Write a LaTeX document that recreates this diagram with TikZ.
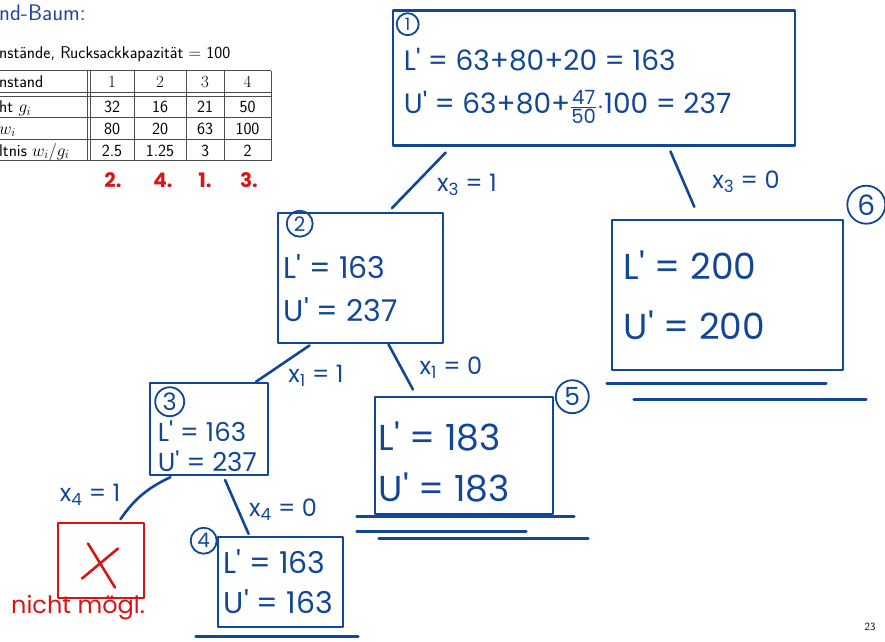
\documentclass[tikz,border=0pt]{standalone}
\usepackage{amsmath}
\usepackage{fontspec}
\newfontfamily\handfont{Poppins}
\usetikzlibrary{
	positioning,
	calc
}
\definecolor{inkblue}{RGB}{18,70,150}
\definecolor{inkred}{RGB}{214,22,22}
\definecolor{titleblue}{RGB}{32,66,160}
\newcommand{\lbnd}{L\textquotesingle}
\newcommand{\ubnd}{U\textquotesingle}

\begin{document}
\begin{tikzpicture}[
			x=1pt, y=-1pt,
			ink/.style={draw=inkblue, line width=2.6pt, line cap=round, line join=round},
			redink/.style={draw=inkred, line width=2.6pt, line cap=round, line join=round},
			box/.style={ink, rectangle, inner sep=0pt},
			vals/.style={anchor=west, inner sep=0pt, align=left, text=inkblue},
			num/.style={circle, draw=inkblue, line width=1.8pt, inner sep=0pt, text=inkblue,
					font=\handfont\fontsize{20}{20}\selectfont},
			lbl/.style={text=inkblue, inner sep=1pt, font=\handfont\fontsize{24}{24}\selectfont},
			rule/.style={draw=black!70, line width=0.8pt},
			cell/.style={anchor=base, inner sep=0pt, font=\sffamily\fontsize{17}{17}\selectfont},
			hcell/.style={anchor=base, inner sep=0pt, font=\rmfamily\fontsize{17}{17}\selectfont}
		]
		\useasboundingbox (0,0) rectangle (885,641);

		% slide
		\node[anchor=base west, inner sep=0pt, text=titleblue, font=\sffamily\fontsize{22.5}{22.5}\selectfont] (title) at (-1,20) {nd-Baum:};
		\node[anchor=base west, inner sep=0pt, font=\sffamily\fontsize{17}{17}\selectfont] (cap) at (-1,58) {nstände, Rucksackkapazität $=$ 100};

		\foreach \yy in {70.7,92.3,96,117.3,139.3,160.7}
		\draw[rule] (-1,\yy) -- (271,\yy);
		\foreach \xx in {87,90,134,186,224,271}
		\draw[rule] (\xx,70.7) -- (\xx,160.7);

		\node[cell, anchor=base west] (c1) at (-1,87.5) {nstand};
		\node[cell, anchor=base west] (c2) at (-1,112.6) {ht $g_i$};
		\node[cell, anchor=base west] (c3) at (-1,134.3) {$w_i$};
		\node[cell, anchor=base west] (c4) at (-1,156) {ltnis $w_i/g_i$};
		\foreach \xx/\a/\b/\c/\d in {112/1/32/80/2.5, 160/2/16/20/1.25, 205/3/21/63/3, 247.5/4/50/100/2} {
				\node[hcell] (h\a) at (\xx,87.5) {\a};
				\node[cell] (g\a) at (\xx,112.6) {\b};
				\node[cell] (w\a) at (\xx,134.3) {\c};
				\node[cell] (q\a) at (\xx,156) {\d};
			}
		\foreach \xx/\rk in {113/2, 163/4, 205/1, 249/3}
		\node[text=inkred, font=\handfont\bfseries\fontsize{20}{20}\selectfont] (r\rk) at (\xx,180) {\rk.};

		\node[font=\sffamily\fontsize{11}{11}\selectfont] (page) at (870,627) {23};

		% tree
		\node[box, minimum width=402pt, minimum height=135pt] (b1) at (594,78) {};
		\node[box, minimum width=165pt, minimum height=130pt] (b2) at (360.5,278) {};
		\node[box, minimum width=231pt, minimum height=150pt] (b6) at (727.5,295) {};
		\node[box, minimum width=118pt, minimum height=92pt] (b3) at (209,429) {};
		\node[box, minimum width=178pt, minimum height=117pt] (b5) at (464,455.5) {};
		\node[box, minimum width=125pt, minimum height=90pt] (b4) at (280.5,582) {};
		\node[redink, rectangle, minimum width=86pt, minimum height=75pt] (bx) at (101,560.5) {};

		\node[vals, font=\handfont\fontsize{28}{43}\selectfont] (t1) at ([xshift=12pt,yshift=-8pt]b1.west)
		{\lbnd{} = 63+80+20 = 163\\ \ubnd{} = 63+80+$\frac{\text{47}}{\text{50}}\cdot$100 = 237};
		\node[vals, font=\handfont\fontsize{30}{43}\selectfont] (t2) at ([xshift=7pt,yshift=-10pt]b2.west)
		{\lbnd{} = 163\\ \ubnd{} = 237};
		\node[vals, font=\handfont\fontsize{36}{60}\selectfont] (t6) at ([xshift=13pt,yshift=0pt]b6.west)
		{\lbnd{} = 200\\ \ubnd{} = 200};
		\node[vals, font=\handfont\fontsize{26}{30}\selectfont] (t3) at ([xshift=9pt,yshift=-17pt]b3.west)
		{\lbnd{} = 163\\ \ubnd{} = 237};
		\node[vals, font=\handfont\fontsize{36}{51}\selectfont] (t5) at ([xshift=5pt,yshift=-7pt]b5.west)
		{\lbnd{} = 183\\ \ubnd{} = 183};
		\node[vals, font=\handfont\fontsize{30}{40}\selectfont] (t4) at ([xshift=7pt,yshift=0pt]b4.west)
		{\lbnd{} = 163\\ \ubnd{} = 163};

		\node[num, minimum size=22pt, font=\handfont\fontsize{17}{17}\selectfont] (n1) at ([xshift=16pt,yshift=-15pt]b1.north west) {1};
		\node[num, minimum size=26pt] (n2) at ([xshift=23pt,yshift=-12pt]b2.north west) {2};
		\node[num, minimum size=29pt, font=\handfont\fontsize{24}{24}\selectfont] (n3) at ([xshift=21pt,yshift=-20pt]b3.north west) {3};
		\node[num, minimum size=26pt] (n4) at ([xshift=-13pt,yshift=-5pt]b4.north west) {4};
		\node[num, minimum size=33pt, font=\handfont\fontsize{25}{25}\selectfont] (n5) at ([xshift=18pt,yshift=-1pt]b5.north east) {5};
		\node[num, minimum size=38pt, font=\handfont\fontsize{28}{28}\selectfont] (n6) at ([xshift=22pt,yshift=14pt]b6.north east) {6};

		\draw[ink, shorten <=8pt, shorten >=5pt] ($(b1.south west)!0.147!(b1.south east)$) -- ($(b2.north west)!0.667!(b2.north east)$);
		\draw[ink, shorten <=5pt, shorten >=13pt] ($(b1.south west)!0.684!(b1.south east)$) -- ($(b6.north west)!0.38!(b6.north east)$);
		\draw[ink, shorten <=2pt] ($(b2.south west)!0.206!(b2.south east)$) -- ($(b3.north west)!0.89!(b3.north east)$);
		\draw[ink, shorten >=7pt] ($(b2.south west)!0.667!(b2.south east)$) -- ($(b5.north west)!0.236!(b5.north east)$);
		\draw[ink, shorten <=2pt, shorten >=3pt] ($(b3.south west)!0.195!(b3.south east)$) to[bend right=15] ($(bx.north west)!0.70!(bx.north east)$);
		\draw[ink, shorten <=4pt, shorten >=2pt] ($(b3.south west)!0.62!(b3.south east)$) -- ($(b4.north west)!0.256!(b4.north east)$);

		\node[lbl] (x31) at (467,185) {x\textsubscript{3} = 1};
		\node[lbl] (x30) at (746,182) {x\textsubscript{3} = 0};
		\node[lbl] (x11) at (316,376) {x\textsubscript{1} = 1};
		\node[lbl] (x10) at (451,368) {x\textsubscript{1} = 0};
		\node[lbl] (x41) at (90,495) {x\textsubscript{4} = 1};
		\node[lbl] (x40) at (283,510) {x\textsubscript{4} = 0};

		\draw[ink] ([xshift=-4pt,yshift=-12pt]b6.south west) -- ([xshift=-18pt,yshift=-12pt]b6.south east);
		\draw[ink] ([xshift=23pt,yshift=-28pt]b6.south west) -- ([xshift=22pt,yshift=-28pt]b6.south east);
		\draw[ink] ([xshift=-17pt,yshift=-1pt]b5.south west) -- ([xshift=20pt,yshift=-1pt]b5.south east);
		\draw[ink] ([xshift=-17pt,yshift=-16pt]b5.south west) -- ([xshift=-28pt,yshift=-16pt]b5.south east);
		\draw[ink] ([xshift=5pt,yshift=-23pt]b5.south west) -- ([xshift=34pt,yshift=-23pt]b5.south east);
		\draw[ink] ([xshift=-21pt,yshift=-8pt]b4.south west) -- ([xshift=14pt,yshift=-8pt]b4.south east);

		\draw[redink] ([xshift=-13pt,yshift=17pt]bx.center) -- ([xshift=14pt,yshift=-27pt]bx.center);
		\draw[redink] ([xshift=17pt,yshift=12pt]bx.center) -- ([xshift=-19pt,yshift=-18pt]bx.center);
		\node[text=inkred, font=\handfont\fontsize{24}{24}\selectfont] (nm) at (78,608) {nicht mögl.};
	\end{tikzpicture}
\end{document}
